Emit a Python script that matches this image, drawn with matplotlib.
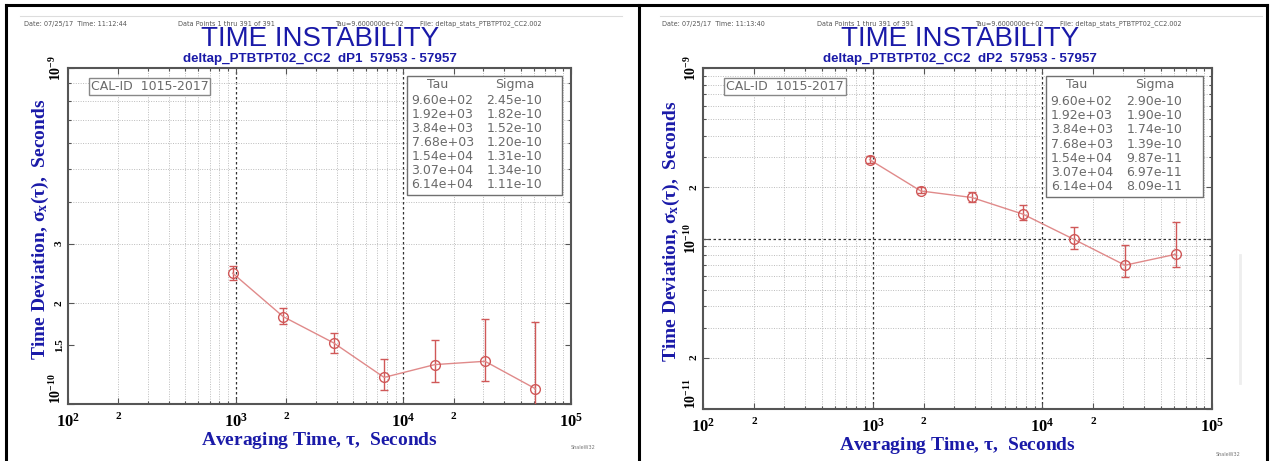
import numpy as np
import matplotlib
matplotlib.use("Agg")
import matplotlib.pyplot as plt
from matplotlib.ticker import FixedLocator, FixedFormatter, NullFormatter
from matplotlib.patches import Rectangle
from matplotlib.lines import Line2D

plt.rcParams['mathtext.fontset'] = 'custom'
plt.rcParams['mathtext.rm'] = 'Liberation Serif:bold'
plt.rcParams['mathtext.it'] = 'Liberation Serif:italic:bold'
plt.rcParams['mathtext.bf'] = 'Liberation Serif:bold'

W, H = 1272, 461

# data
tau = [960, 1920, 3840, 7680, 15400, 30700, 61400]
sig_dp1 = [2.45e-10, 1.82e-10, 1.52e-10, 1.20e-10, 1.31e-10, 1.34e-10, 1.11e-10]
hi_dp1 = [2.58e-10, 1.93e-10, 1.63e-10, 1.36e-10, 1.55e-10, 1.79e-10, 1.75e-10]
lo_dp1 = [2.34e-10, 1.73e-10, 1.42e-10, 1.10e-10, 1.16e-10, 1.17e-10, 0.90e-10]
sig_dp2 = [2.90e-10, 1.90e-10, 1.74e-10, 1.39e-10, 9.87e-11, 6.97e-11, 8.09e-11]
hi_dp2 = [3.05e-10, 2.00e-10, 1.87e-10, 1.57e-10, 1.17e-10, 9.16e-11, 1.25e-10]
lo_dp2 = [2.77e-10, 1.85e-10, 1.64e-10, 1.28e-10, 8.68e-11, 5.95e-11, 6.80e-11]

xticks = [100, 200, 1000, 2000, 10000, 20000, 100000]
xticklabels = [r'$10^{2}$', '2', r'$10^{3}$', '2', r'$10^{4}$', '2', r'$10^{5}$']
yticks_dp1 = [1e-10, 1.5e-10, 2e-10, 3e-10, 1e-9]
yticklabels_dp1 = [r'$10^{-10}$', '1.5', '2', '3', r'$10^{-9}$']
yticks_dp2 = [1e-11, 2e-11, 1e-10, 2e-10, 1e-9]
yticklabels_dp2 = [r'$10^{-11}$', '2', r'$10^{-10}$', '2', r'$10^{-9}$']

headers = [
    ["Date: 07/25/17  Time: 11:12:44", "Data Points 1 thru 391 of 391",
     "Tau=9.6000000e+02", "File: deltap_stats_PTBTPT02_CC2.002"],
    ["Date: 07/25/17  Time: 11:13:40", "Data Points 1 thru 391 of 391",
     "Tau=9.6000000e+02", "File: deltap_stats_PTBTPT02_CC2.002"],
]
subtitles = ["deltap_PTBTPT02_CC2  dP1  57953 - 57957",
             "deltap_PTBTPT02_CC2  dP2  57953 - 57957"]

BLUE = '#1a1aa8'
RED = '#d05858'
GRAY = '#6a6a6a'


def rect(l, t, r, b):
    return [l / W, 1 - b / H, (r - l) / W, (b - t) / H]


fig = plt.figure(figsize=(W / 100, H / 100), dpi=100)

# table borders
for x in [6, 639, 1267]:
    fig.add_artist(Line2D([x / W, x / W], [0, 1 - 5 / H], color='black', lw=2.2))
fig.add_artist(Line2D([6 / W, 1267 / W], [1 - 5 / H, 1 - 5 / H], color='black', lw=2.2))


def panel(rc, idx, ox, sig, lo, hi, yl, yticks, yticklabels, ymajor_inner, hxs, ylx):
    ax = fig.add_axes(rc)
    ax.set_xscale('log')
    ax.set_yscale('log')
    ax.set_xlim(1e2, 1e5)
    ax.set_ylim(*yl)

    # grid at every decade subdivision
    for dec in [1e2, 1e3, 1e4]:
        for m in range(2, 10):
            ax.axvline(dec * m, color='#bcbcbc', lw=0.7, ls=(0, (1, 1.5)), zorder=0)
    for v in [1e3, 1e4]:
        ax.axvline(v, color='#333333', lw=0.9, ls=(0, (2, 2)), zorder=0)
    d0 = int(np.round(np.log10(yl[0])))
    d1 = int(np.round(np.log10(yl[1])))
    for d in range(d0, d1):
        for m in range(2, 10):
            ax.axhline(m * 10.0 ** d, color='#bcbcbc', lw=0.7, ls=(0, (1, 1.5)), zorder=0)
    for v in ymajor_inner:
        ax.axhline(v, color='#333333', lw=0.9, ls=(0, (2, 2)), zorder=0)

    sig = np.array(sig)
    err = [sig - np.array(lo), np.array(hi) - sig]
    ax.errorbar(tau, sig, yerr=err, fmt='-o', color='#e08a8a', ecolor=RED,
                mec=RED, mfc='none', ms=7, mew=1.0, lw=1.0, elinewidth=1.0,
                capsize=3, capthick=1.0, zorder=3)

    ax.xaxis.set_major_locator(FixedLocator(xticks))
    ax.xaxis.set_major_formatter(FixedFormatter(xticklabels))
    xminor = [dec * m for dec in [1e2, 1e3, 1e4] for m in range(2, 10)]
    ax.xaxis.set_minor_locator(FixedLocator(xminor))
    ax.xaxis.set_minor_formatter(NullFormatter())
    ax.yaxis.set_major_locator(FixedLocator(yticks))
    ax.yaxis.set_major_formatter(FixedFormatter(yticklabels))
    yminor = [m * 10.0 ** d for d in range(d0, d1) for m in range(2, 10)]
    ax.yaxis.set_minor_locator(FixedLocator(yminor))
    ax.yaxis.set_minor_formatter(NullFormatter())

    ax.tick_params(which='both', direction='in', top=True, right=True,
                   color='#555555', width=0.8)
    ax.tick_params(which='major', length=4)
    ax.tick_params(which='minor', length=2.5)
    ax.tick_params(axis='x', pad=6)
    ax.tick_params(axis='y', pad=3)
    for lab in ax.get_xticklabels():
        lab.set_fontfamily('Liberation Serif')
        lab.set_fontweight('bold')
        lab.set_fontsize(12 if lab.get_text().startswith('$') else 8)
    ylabs = ax.get_yticklabels()
    for i, lab in enumerate(ylabs):
        lab.set_fontfamily('Liberation Serif')
        lab.set_fontweight('bold')
        lab.set_rotation(90)
        lab.set_va('bottom' if i == 0 else 'center')
        lab.set_fontsize(10 if lab.get_text().startswith('$') else 8)
    for s in ax.spines.values():
        s.set_color('#555555')
        s.set_linewidth(1.5)

    ax.set_xlabel('Averaging Time, $\\mathrm{\\tau}$,  Seconds', fontsize=14,
                  fontfamily='Liberation Serif', fontweight='bold', color=BLUE, labelpad=0)
    ax.set_ylabel('Time Deviation, $\\mathrm{\\sigma_x(\\tau)}$,  Seconds', fontsize=14,
                  fontfamily='Liberation Serif', fontweight='bold', color=BLUE)
    ax.yaxis.set_label_coords(ylx, 0.52)

    # CAL-ID box
    ax.text(0.045, 0.946, 'CAL-ID  1015-2017', transform=ax.transAxes, fontsize=9,
            color=GRAY, va='center', ha='left',
            bbox=dict(boxstyle='square,pad=0.15', fc='white', ec='#888888', lw=1.0))

    # Tau / Sigma table
    ax.add_patch(Rectangle((0.674, 0.622), 0.308, 0.354, transform=ax.transAxes,
                           fc='white', ec='#707070', lw=1.0, zorder=4))
    ax.text(0.735, 0.952, 'Tau', transform=ax.transAxes, fontsize=9, color=GRAY,
            ha='center', va='center', zorder=5)
    ax.text(0.888, 0.952, 'Sigma', transform=ax.transAxes, fontsize=9, color=GRAY,
            ha='center', va='center', zorder=5)
    for i, (t, s) in enumerate(zip(tau, sig)):
        y = 0.902 - i * 0.0417
        ax.text(0.683, y, f'{t:.2e}', transform=ax.transAxes, fontsize=9,
                color=GRAY, ha='left', va='center', zorder=5)
        ax.text(0.832, y, f'{s:.2e}', transform=ax.transAxes, fontsize=9,
                color=GRAY, ha='left', va='center', zorder=5)

    # header and titles
    cx = ox + 320
    for x, txt in zip(hxs, headers[idx]):
        fig.text((ox + x) / W, 1 - 24 / H, txt, fontsize=4.7, color='#555555',
                 ha='left', va='center')
    fig.add_artist(Line2D([(ox + 20) / W, (ox + 622) / W], [1 - 16 / H, 1 - 16 / H],
                          color='#dddddd', lw=0.8))
    fig.text(cx / W, 1 - 39 / H, 'TIME INSTABILITY', fontsize=20,
             fontfamily='Liberation Sans', color=BLUE, ha='center', va='center')
    fig.text(cx / W, 1 - 59 / H, subtitles[idx], fontsize=9.6,
             fontfamily='Liberation Sans', fontweight='bold', color=BLUE,
             ha='center', va='center')
    return ax


panel(rect(68, 68, 571, 404), 0, 0, sig_dp1, lo_dp1, hi_dp1, (1e-10, 1e-9),
      yticks_dp1, yticklabels_dp1, [], [24, 178, 335, 420], -0.033)
panel(rect(703, 68, 1212, 409), 1, 640, sig_dp2, lo_dp2, hi_dp2, (1e-11, 1e-9),
      yticks_dp2, yticklabels_dp2, [1e-10], [22, 177, 335, 420], -0.042)

fig.text(583 / W, 1 - 449 / H, 'ShaleW32', fontsize=3.5, color='#777777', ha='center')
fig.text(1228 / W, 1 - 456 / H, 'ShaleW32', fontsize=3.5, color='#777777', ha='center')
fig.add_artist(Line2D([1240 / W, 1240 / W], [1 - 255 / H, 1 - 383 / H],
                      color='#eeeeee', lw=2))

fig.savefig('out.png', dpi=100)
